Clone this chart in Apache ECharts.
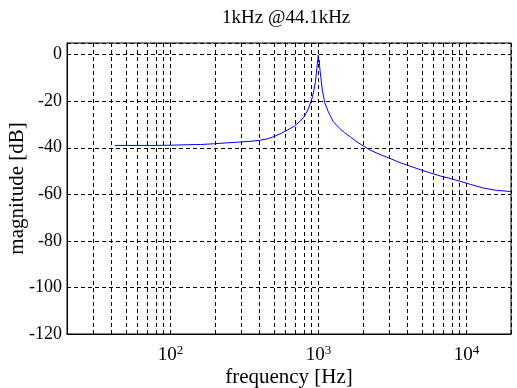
<!DOCTYPE html>
<html>
<head>
<meta charset="utf-8">
<script src="https://cdn.jsdelivr.net/npm/echarts@6/dist/echarts.min.js"></script>
<style>
html, body { margin: 0; padding: 0; background: #fff; }
#main { width: 517px; height: 388px; }
</style>
</head>
<body>
<div id="main"></div>
<script>
// frequency response
var freqHz = [42, 60, 80, 100, 130, 160, 195, 240, 300, 350, 400, 450, 500, 560, 620, 680, 740, 800, 850, 900, 930, 955, 975, 990, 997, 1004, 1012, 1020, 1037, 1062, 1105, 1165, 1260, 1390, 1500, 1640, 1820, 2010, 2230, 2610, 3050, 3560, 4160, 4870, 5690, 6640, 7760, 9060, 10600, 13000, 16000, 20000];
var magDb = [-39.0, -39.0, -39.0, -38.9, -38.7, -38.6, -38.3, -37.9, -37.5, -37.2, -36.8, -36.2, -35.2, -33.8, -32.3, -30.9, -29.0, -26.7, -23.6, -19.3, -15.5, -11.5, -6.0, -2.0, -0.2, -3.3, -2.3, -5.5, -9.6, -15.2, -20.8, -24.5, -28.8, -31.7, -33.5, -35.3, -37.5, -39.2, -41.0, -42.9, -44.6, -46.4, -47.9, -49.4, -50.8, -52.1, -53.2, -54.4, -55.7, -57.3, -58.3, -58.8];
var minorGridHz = [30, 40, 50, 60, 70, 80, 90, 200, 300, 400, 500, 600, 700, 800, 900, 2000, 3000, 4000, 5000, 6000, 7000, 8000, 9000];
var yTicks = [-120, -100, -80, -60, -40, -20, 0];

var serif = 'Liberation Serif';
var dash = [4, 3];

var myChart = echarts.init(document.getElementById('main'));
var option = {
    animation: false,
    backgroundColor: '#fff',
    title: {
        text: '1kHz @44.1kHz',
        left: 222,
        top: 9,
        padding: 0,
        textStyle: { fontFamily: serif, fontSize: 19, fontWeight: 'normal', color: '#000' }
    },
    grid: {
        left: 67, right: 6, top: 43, bottom: 54,
        outerBoundsMode: 'none',
        containLabel: false,
        show: true, borderColor: '#000', borderWidth: 1
    },
    xAxis: {
        type: 'log',
        logBase: 10,
        min: 20,
        max: 20000,
        name: 'frequency [Hz]',
        nameLocation: 'middle',
        nameGap: 33,
        nameMoveOverlap: false,
        nameTextStyle: { fontFamily: serif, fontSize: 21, color: '#000' },
        axisLine: { show: true, onZero: false, lineStyle: { color: '#000', width: 1 } },
        axisTick: { show: false },
        axisLabel: {
            margin: 10,
            color: '#000',
            formatter: function (v) {
                var e = Math.log10(v);
                if (Math.abs(e - Math.round(e)) > 1e-6) return '';
                return '{b|10}{s|' + Math.round(e) + '}';
            },
            rich: {
                b: { fontFamily: serif, fontSize: 19, color: '#000', lineHeight: 22 },
                s: { fontFamily: serif, fontSize: 13, color: '#000', verticalAlign: 'top', lineHeight: 13 }
            }
        },
        splitLine: { show: true, lineStyle: { color: '#000', type: dash, width: 1 } }
    },
    yAxis: {
        type: 'value',
        min: -120,
        max: 5,
        interval: 20,
        name: 'magnitude [dB]',
        nameLocation: 'middle',
        nameGap: 39,
        nameMoveOverlap: false,
        nameTextStyle: { fontFamily: serif, fontSize: 21, color: '#000' },
        axisLine: { show: true, onZero: false, lineStyle: { color: '#000', width: 1 } },
        axisTick: { show: false },
        axisLabel: {
            margin: 5,
            fontFamily: serif,
            fontSize: 18,
            color: '#000',
            formatter: function (v) {
                return yTicks.indexOf(v) >= 0 ? String(v) : '';
            }
        },
        splitLine: { show: true, lineStyle: { color: '#000', type: dash, width: 1 } }
    },
    series: [{
        type: 'line',
        data: freqHz.map(function (f, i) { return [f, magDb[i]]; }),
        showSymbol: false,
        symbol: 'none',
        lineStyle: { color: '#0000ff', width: 1 },
        itemStyle: { color: '#0000ff' },
        z: 5,
        markLine: {
            silent: true,
            symbol: ['none', 'none'],
            label: { show: false },
            lineStyle: { color: '#000', type: dash, width: 1 },
            data: minorGridHz.map(function (f) { return { xAxis: f }; })
        }
    }]
};
myChart.setOption(option);
</script>
</body>
</html>
